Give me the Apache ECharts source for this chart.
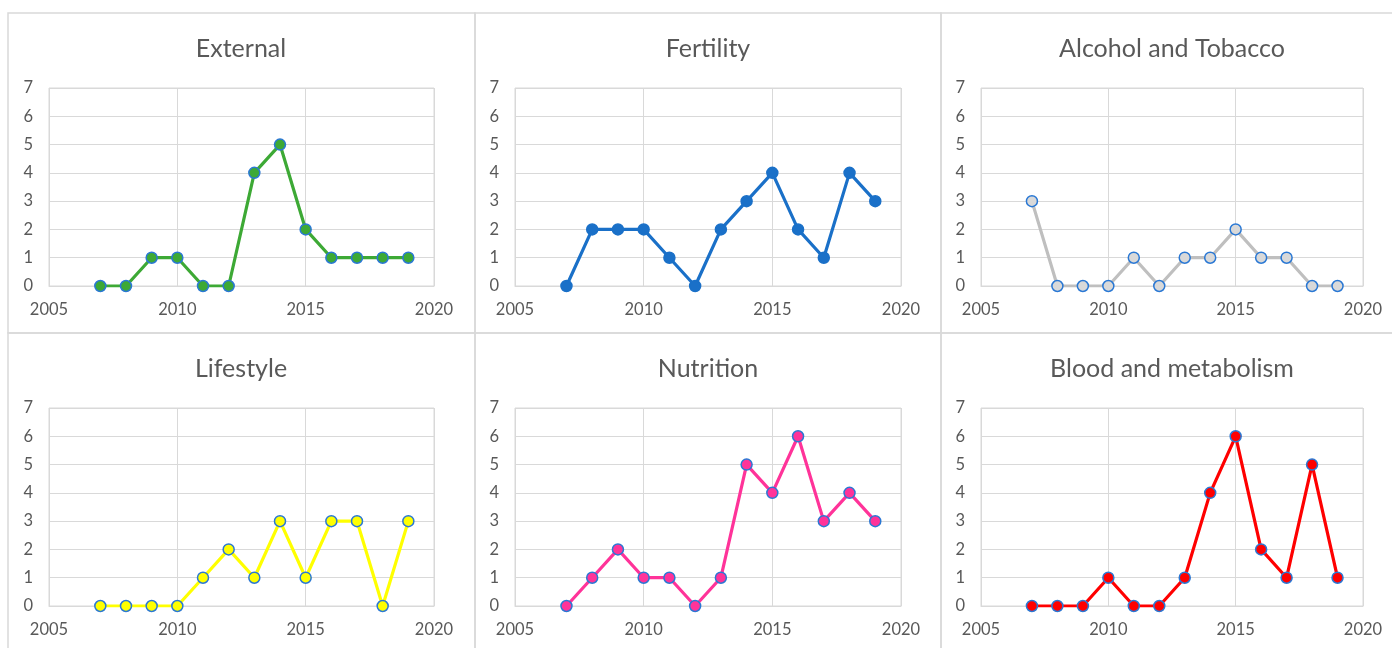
<!DOCTYPE html>
<html><head><meta charset="utf-8">
<script src="https://cdn.jsdelivr.net/npm/echarts@6/dist/echarts.min.js"></script>
<style>html,body{margin:0;padding:0;background:#fff}#c{width:1392px;height:648px}</style>
</head><body><div id="c"></div>
<script>
const years = [2007,2008,2009,2010,2011,2012,2013,2014,2015,2016,2017,2018,2019];
const titles = ["External","Fertility","Alcohol and Tobacco","Lifestyle","Nutrition","Blood and metabolism"];
const external = [0,0,1,1,0,0,4,5,2,1,1,1,1];
const fertility = [0,2,2,2,1,0,2,3,4,2,1,4,3];
const alcohol = [3,0,0,0,1,0,1,1,2,1,1,0,0];
const lifestyle = [0,0,0,0,1,2,1,3,1,3,3,0,3];
const nutrition = [0,1,2,1,1,0,1,5,4,6,3,4,3];
const blood = [0,0,0,1,0,0,1,4,6,2,1,5,1];
const xTicks = [2005,2010,2015,2020];
const yTicks = [0,1,2,3,4,5,6,7];

const seriesData = [external,fertility,alcohol,lifestyle,nutrition,blood];
const lineColors = ['#3da935','#1a70c8','#bfbfbf','#ffff00','#ff3399','#ff0000'];
const fillColors = ['#3da935','#1a70c8','#d9d9d9','#ffff00','#ff3399','#ff0000'];
const borderCol = '#2a78d4';

const cols = [{l:49,w:385,cx:236},{l:515,w:386,cx:703},{l:981,w:382,cx:1167}];
const rows = [{t:88,h:198,ty:47},{t:408,h:198,ty:367}];
const font = 'Lato, "Open Sans", sans-serif';

const grid=[], xAxis=[], yAxis=[], series=[], title=[];
for (let i=0;i<6;i++){
  const c=cols[i%3], r=rows[Math.floor(i/3)];
  grid.push({left:c.l, top:r.t, width:c.w, height:r.h, show:true, borderColor:'#d9d9d9', borderWidth:1});
  xAxis.push({type:'value', gridIndex:i, min:xTicks[0], max:xTicks[xTicks.length-1], interval:5,
    axisLine:{show:true,lineStyle:{color:'#d9d9d9'}}, axisTick:{show:false},
    splitLine:{show:true,lineStyle:{color:'#d9d9d9'}},
    axisLabel:{color:'#595959', fontSize:16.5, fontFamily:font, margin:15, formatter:v=>String(v)}});
  yAxis.push({type:'value', gridIndex:i, min:yTicks[0], max:yTicks[yTicks.length-1], interval:1,
    axisLine:{show:false}, axisTick:{show:false},
    splitLine:{show:true,lineStyle:{color:'#d9d9d9'}},
    axisLabel:{color:'#595959', fontSize:16.5, fontFamily:font, margin:16}});
  series.push({type:'line', xAxisIndex:i, yAxisIndex:i,
    data: years.map((y,k)=>[y, seriesData[i][k]]),
    symbol:'circle', symbolSize:11,
    lineStyle:{color:lineColors[i], width:3.2},
    itemStyle:{color:fillColors[i], borderColor: i===1 ? fillColors[i] : borderCol, borderWidth:1.5},
    animation:false});
  title.push({text:titles[i], left:c.cx, top:r.ty-16, textAlign:'center',
    textStyle:{color:'#595959', fontSize:25, fontWeight:'normal', fontFamily:font}});
}
const graphic = [
  {type:'rect', shape:{x:8,y:13,width:467,height:320}, style:{fill:'none',stroke:'#d9d9d9',lineWidth:1.5}, silent:true},
  {type:'rect', shape:{x:475,y:13,width:466,height:320}, style:{fill:'none',stroke:'#d9d9d9',lineWidth:1.5}, silent:true},
  {type:'rect', shape:{x:941,y:13,width:460,height:320}, style:{fill:'none',stroke:'#d9d9d9',lineWidth:1.5}, silent:true},
  {type:'rect', shape:{x:8,y:333,width:467,height:330}, style:{fill:'none',stroke:'#d9d9d9',lineWidth:1.5}, silent:true},
  {type:'rect', shape:{x:475,y:333,width:466,height:330}, style:{fill:'none',stroke:'#d9d9d9',lineWidth:1.5}, silent:true},
  {type:'rect', shape:{x:941,y:333,width:460,height:330}, style:{fill:'none',stroke:'#d9d9d9',lineWidth:1.5}, silent:true}
];
const chart = echarts.init(document.getElementById('c'));
chart.setOption({animation:false, backgroundColor:'#fff', title, grid, xAxis, yAxis, series, graphic});
</script></body></html>
